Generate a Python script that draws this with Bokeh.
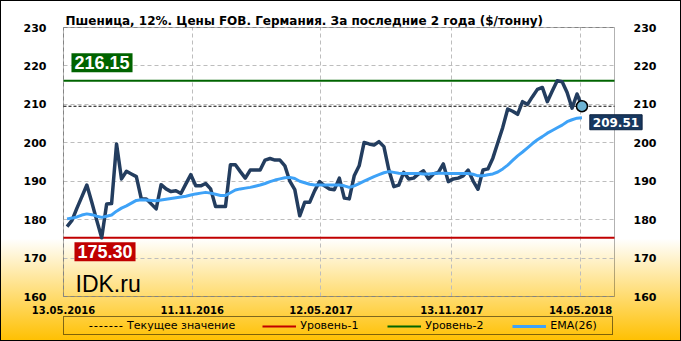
import pandas as pd
from bokeh.plotting import figure
from bokeh.models import (FixedTicker, DatetimeTickFormatter, LinearAxis, Range1d,
                          Label, Legend, LegendItem, BoxAnnotation)
from bokeh.embed import file_html
from bokeh.resources import INLINE

# ---------------- data ----------------
title_text = "Пшеница, 12%. Цены FOB. Германия. За последние 2 года ($/тонну)"
first_date = "2016-05-18"
price = [
    178.2, 179.8, 183.0, 186.0, 189.0, 184.5, 179.8, 175.3, 184.1, 184.2,
    199.7, 190.6, 192.6, 191.9, 191.2, 185.4, 185.4, 184.1, 182.8, 189.1,
    188.0, 187.3, 187.5, 186.8, 189.3, 191.7, 188.8, 188.8, 189.4, 188.0,
    183.4, 183.4, 183.4, 194.3, 194.3, 192.5, 190.8, 192.9, 192.9, 192.9,
    195.5, 195.9, 195.5, 195.5, 194.0, 190.0, 187.8, 181.0, 184.5, 184.5,
    187.5, 189.9, 188.8, 188.0, 187.8, 190.8, 185.6, 185.4, 191.4, 194.0,
    200.1, 199.7, 199.4, 200.3, 199.0, 192.9, 188.6, 189.0, 192.3, 190.6,
    190.8, 191.9, 192.7, 190.6, 191.9, 192.3, 194.5, 189.9, 190.6, 190.8,
    191.4, 192.9, 190.1, 187.9, 192.9, 193.2, 196.0, 200.0, 204.0, 208.8,
    208.2, 207.4, 210.7, 210.0, 212.0, 213.9, 214.4, 210.7, 213.5, 216.15,
    215.9, 213.1, 209.0, 212.7, 209.51,
]
ema26 = [
    180.2, 180.4, 180.7, 181.2, 181.5, 181.3, 180.9, 180.6, 180.9, 181.2,
    182.2, 183.0, 183.6, 184.3, 185.0, 185.2, 185.1, 185.0, 184.9, 185.1,
    185.3, 185.5, 185.7, 185.9, 186.1, 186.4, 186.7, 186.9, 187.1, 186.9,
    186.6, 186.3, 186.3, 187.0, 187.7, 188.0, 188.2, 188.4, 188.7, 189.0,
    189.4, 189.9, 190.3, 190.6, 190.9, 191.0, 190.7, 190.0, 189.6, 189.2,
    189.0, 189.0, 189.0, 189.0, 189.0, 189.0, 188.8, 188.4, 188.8, 189.4,
    190.0, 190.6, 191.2, 191.7, 192.2, 192.5, 192.3, 192.1, 192.0, 192.0,
    192.0, 192.0, 191.9, 191.9, 192.0, 192.1, 192.1, 192.0, 192.0, 192.0,
    192.0, 192.0, 191.8, 191.4, 191.4, 191.7, 191.9, 192.4, 193.2, 194.2,
    195.4, 196.6, 197.6, 198.7, 199.8, 200.8, 201.6, 202.5, 203.2, 203.9,
    204.6, 205.5, 206.0, 206.4, 206.5,
]
x_tick_dates = ["2016-05-13", "2016-11-11", "2017-05-12", "2017-11-13", "2018-05-14"]
y_ticks = [160, 170, 180, 190, 200, 210, 220, 230]
level_1 = 175.30
level_2 = 216.15
current_value = 209.51
legend_labels = ["Текущее значение", "Уровень-1", "Уровень-2", "EMA(26)"]
watermark = "IDK.ru"
x_start, x_end = "2016-05-13", "2018-07-01"
y_start, y_end = 160, 230

dates = pd.date_range(first_date, periods=len(price), freq="7D")

# ---------------- layout (pixels) ----------------
W, H = 681, 341
BOX_L, BOX_R, BOX_T, BOX_B = 63, 614, 27, 296     # the boxed plot area

ts0, ts1 = pd.Timestamp(x_start), pd.Timestamp(x_end)
span_x = ts1 - ts0
px_x = BOX_R - BOX_L
span_y = y_end - y_start
px_y = BOX_B - BOX_T
# the drawing frame covers the whole window; ranges extended so that the
# boxed plot sits where it should
xr = Range1d(ts0 - span_x * (BOX_L / px_x), ts1 + span_x * ((W - BOX_R) / px_x))
yr = Range1d(y_start - span_y * ((H - BOX_B) / px_y), y_end + span_y * (BOX_T / px_y))
ms = lambda t: pd.Timestamp(t).timestamp() * 1000

p = figure(width=W, height=H, x_axis_type="datetime", x_range=xr, y_range=yr,
           output_backend="svg", toolbar_location=None,
           min_border_left=0, min_border_right=0, min_border_top=0, min_border_bottom=0)
p.border_fill_color = None
p.background_fill_color = None
p.outline_line_color = None
p.styles = {
    "background": "linear-gradient(to bottom, #ffffff 0%, #ffffff 70%, #ffc000 100%)",
    "outline": "1px solid black",
    "outline-offset": "-1px",
}

# ---------------- axes (pinned to the plot box) ----------------
xax = p.xaxis[0]
xax.ticker = FixedTicker(ticks=[ms(d) for d in x_tick_dates])
xax.formatter = DatetimeTickFormatter(
    days="%d.%m.%Y", months="%d.%m.%Y", years="%d.%m.%Y", hours="%d.%m.%Y",
    strip_leading_zeros=False)
xax.fixed_location = y_start
xax.major_label_text_font_size = "10px"
xax.major_label_standoff = 3

lax = p.yaxis[0]
lax.ticker = FixedTicker(ticks=y_ticks)
lax.fixed_location = ms(ts0)
lax.major_label_standoff = 11
rax = LinearAxis(ticker=FixedTicker(ticks=y_ticks), fixed_location=ms(ts1),
                 major_label_standoff=13)
p.add_layout(rax, "right")

for ax in (xax, lax, rax):
    ax.axis_line_color = None
    ax.major_tick_line_color = None
    ax.minor_tick_line_color = None
    ax.major_label_text_color = "black"
    ax.major_label_text_font = "DejaVu Sans"
    ax.major_label_text_font_style = "bold"
for ax in (lax, rax):
    ax.major_label_text_font_size = "11px"

# ---------------- grid ----------------
grid_color, grid_dash = "#bdbdbd", "4 3"
xg, yg = p.xgrid[0], p.ygrid[0]
if "cross_bounds" in yg.properties():
    xg.ticker = FixedTicker(ticks=[ms(d) for d in x_tick_dates])
    xg.cross_bounds = (y_start, y_end)
    yg.ticker = FixedTicker(ticks=y_ticks)
    yg.cross_bounds = (ms(ts0), ms(ts1))
    for g in (xg, yg):
        g.grid_line_color = grid_color
        g.grid_line_dash = grid_dash
else:
    xg.grid_line_color = None
    yg.grid_line_color = None
    xt = [pd.Timestamp(d) for d in x_tick_dates]
    p.segment(x0=xt, x1=xt, y0=[y_start] * len(xt), y1=[y_end] * len(xt),
              line_color=grid_color, line_dash=grid_dash, line_width=1)
    p.segment(x0=[ts0] * len(y_ticks), x1=[ts1] * len(y_ticks), y0=y_ticks, y1=y_ticks,
              line_color=grid_color, line_dash=grid_dash, line_width=1)

# plot box outline
p.add_layout(BoxAnnotation(left=ms(ts0), right=ms(ts1), bottom=y_start, top=y_end,
                           fill_alpha=0, line_color="black", line_width=1,
                           level="underlay"))

# ---------------- glyphs ----------------
r_cur = p.segment(x0=[ts0], x1=[ts1], y0=[current_value], y1=[current_value],
                  line_color="black", line_dash="3 2", line_width=1)
r_l1 = p.segment(x0=[ts0], x1=[ts1], y0=[level_1], y1=[level_1],
                 line_color="#c00000", line_width=2)
r_l2 = p.segment(x0=[ts0], x1=[ts1], y0=[level_2], y1=[level_2],
                 line_color="#006400", line_width=2)
p.line(dates, price, line_color="#233d5f", line_width=3.5, line_join="round")
r_ema = p.line(dates, ema26, line_color="#3ea2f7", line_width=3, line_join="round")
p.scatter([dates[-1]], [price[-1]], size=11, fill_color="#6db3d3",
          line_color="black", line_width=1.5)

# ---------------- labels ----------------
p.add_layout(Label(x=BOX_L + 2, y=H - 20, x_units="screen", y_units="screen",
                   text=title_text, text_font="DejaVu Sans", text_font_style="bold",
                   text_font_size="12px", text_color="black", text_baseline="alphabetic"))
p.add_layout(Label(x=ts0, y=level_2, x_offset=38.5, y_offset=18, text=f"{level_2:.2f}",
                   text_align="center", text_baseline="middle", text_color="white",
                   text_font="Liberation Sans", text_font_style="bold", text_font_size="18px",
                   background_fill_color="#006400", padding=3))
p.add_layout(Label(x=ts0, y=level_1, x_offset=41.5, y_offset=-14, text=f"{level_1:.2f}",
                   text_align="center", text_baseline="middle", text_color="white",
                   text_font="Liberation Sans", text_font_style="bold", text_font_size="18px",
                   background_fill_color="#c00000", padding=3))
p.add_layout(Label(x=dates[-1], y=price[-1], x_offset=34, y_offset=-16,
                   text=f"{current_value:.2f}",
                   text_align="center", text_baseline="middle", text_color="white",
                   text_font="DejaVu Sans", text_font_style="bold", text_font_size="12px",
                   background_fill_color="#17375e", border_line_color="#0d2240", padding=3))
p.add_layout(Label(x=BOX_L + 12, y=H - 283, x_units="screen", y_units="screen",
                   text=watermark, text_font="Liberation Sans", text_font_size="23px",
                   text_color="black", text_baseline="alphabetic"))

# ---------------- legend ----------------
legend = Legend(items=[LegendItem(label=legend_labels[0], renderers=[r_cur]),
                       LegendItem(label=legend_labels[1], renderers=[r_l1]),
                       LegendItem(label=legend_labels[2], renderers=[r_l2]),
                       LegendItem(label=legend_labels[3], renderers=[r_ema])],
                location=(BOX_L, 6), orientation="horizontal",
                title="\u2002\u2002", title_location="left", title_standoff=11,
                title_text_font_size="11px", title_text_color="black",
                border_line_color="black", border_line_width=1,
                background_fill_alpha=0,
                padding=2, margin=0, spacing=27, glyph_width=34, glyph_height=12,
                label_height=12, label_width=60, label_standoff=4,
                label_text_font="DejaVu Sans", label_text_font_size="11px",
                label_text_color="black")
p.add_layout(legend)

open("out.html", "w").write(file_html(p, INLINE))
